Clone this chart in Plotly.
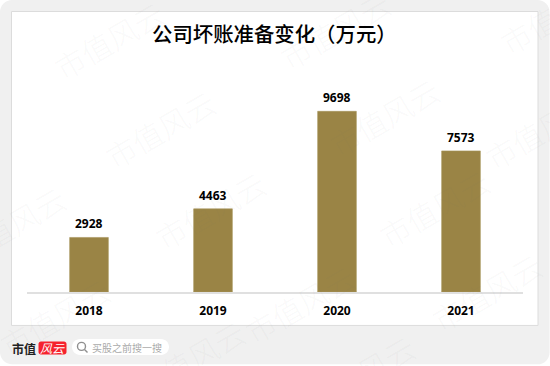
import plotly.graph_objects as go

years = ["2018", "2019", "2020", "2021"]
values = [2928, 4463, 9698, 7573]
title_text = "公司坏账准备变化（万元）"
watermark_text = "市值风云"
watermark_centers = [(109, 40), (160, 129), (335, 30), (384, 117), (555, 15), (434, 208),
                     (487, 293), (210, 210), (10, 225), (55, 318), (300, 305), (190, 360), (540, 130), (360, 375)]

W, H = 550, 366
PLOT_L, PLOT_W, PLOT_BOTTOM, PLOT_H = 27, 496, 292.5, 281.5


def px(x):
    return (x - PLOT_L) / PLOT_W


def py(y):
    return (PLOT_BOTTOM - y) / PLOT_H


def rounded(x0, y0, x1, y1, r):
    k = 0.45 * r
    pts = [
        ("M", (x0 + r, y0)), ("L", (x1 - r, y0)),
        ("C", (x1 - k, y0), (x1, y0 + k), (x1, y0 + r)), ("L", (x1, y1 - r)),
        ("C", (x1, y1 - k), (x1 - k, y1), (x1 - r, y1)), ("L", (x0 + r, y1)),
        ("C", (x0 + k, y1), (x0, y1 - k), (x0, y1 - r)), ("L", (x0, y0 + r)),
        ("C", (x0, y0 + k), (x0 + k, y0), (x0 + r, y0)),
    ]
    out = []
    for p in pts:
        out.append(p[0] + " " + " ".join(f"{px(a):.5f},{py(b):.5f}" for a, b in p[1:]))
    return " ".join(out) + " Z"


fig = go.Figure(go.Bar(x=years, y=values, width=0.312, cliponaxis=False,
                       marker=dict(color="#9a8445", line=dict(color="#a6935a", width=0.6))))

shapes = [
    dict(type="path", xref="paper", yref="paper", path=rounded(0, 0, 549.5, 365, 12), layer="below",
         line=dict(width=0), fillcolor="#f0f0f0"),
    dict(type="rect", xref="paper", yref="paper", x0=px(11.5), x1=px(538), y0=py(326), y1=py(11.5), layer="below",
         line=dict(width=1, color="#dcdcdc"), fillcolor="#ffffff"),
    dict(type="path", xref="paper", yref="paper", path=rounded(38.5, 342, 66.5, 355, 2.5), layer="below",
         line=dict(width=0), fillcolor="#f5222d"),
    dict(type="path", xref="paper", yref="paper", path=rounded(72, 339.5, 169, 355.5, 8), layer="below",
         line=dict(width=0), fillcolor="#ffffff"),
    dict(type="circle", xref="paper", yref="paper", x0=px(77.5), x1=px(85.5), y0=py(351), y1=py(343), layer="above",
         line=dict(width=1.4, color="#8f8f8f"), fillcolor="rgba(0,0,0,0)"),
    dict(type="line", xref="paper", yref="paper", x0=px(84.5), x1=px(87.5), y0=py(350), y1=py(353), layer="above",
         line=dict(width=1.4, color="#8f8f8f")),
]

anns = []
for cx, cy in watermark_centers:
    anns.append(dict(xref="paper", yref="paper", x=px(cx), y=py(cy), text=watermark_text, showarrow=False,
                     xanchor="center", yanchor="middle", textangle=-30,
                     font=dict(family="Noto Sans CJK SC", size=30, color="rgba(110,110,110,0.05)", weight=300)))
for i, value in enumerate(values):
    anns.append(dict(x=i, y=value, xref="x", yref="y", text=str(value), showarrow=False, xanchor="center",
                     yanchor="middle", yshift=13.5,
                     font=dict(family="Noto Sans", size=12, color="#000000", weight=700)))
anns += [
    dict(xref="paper", yref="paper", x=px(274), y=py(33.5), text=title_text, showarrow=False,
         xanchor="center", yanchor="middle",
         font=dict(family="Noto Sans CJK SC", size=20.4, color="#000000", weight=500)),
    dict(xref="paper", yref="paper", x=px(23.5), y=py(349.5), text="市值", showarrow=False,
         xanchor="center", yanchor="middle",
         font=dict(family="Noto Sans CJK SC", size=12, color="#222222", weight=700)),
    dict(xref="paper", yref="paper", x=px(52.5), y=py(348.5), text="<i>风云</i>", showarrow=False,
         xanchor="center", yanchor="middle",
         font=dict(family="Noto Sans CJK SC", size=12, color="#ffffff")),
    dict(xref="paper", yref="paper", x=px(126.5), y=py(348), text="买股之前搜一搜", showarrow=False,
         xanchor="center", yanchor="middle",
         font=dict(family="Noto Sans CJK SC", size=10, color="#aaaaaa")),
]

fig.update_layout(
    width=W, height=H, autosize=False, margin=dict(l=PLOT_L, r=W - PLOT_L - PLOT_W, t=PLOT_BOTTOM - PLOT_H, b=H - PLOT_BOTTOM),
    paper_bgcolor="#ffffff", plot_bgcolor="rgba(0,0,0,0)", showlegend=False,
    shapes=shapes, annotations=anns,
    xaxis=dict(type="category", range=[-0.5, 3.5], showgrid=False, ticks="", showline=True, linecolor="#e0e0e0", linewidth=1.5,
               tickfont=dict(family="Noto Sans", size=12, color="#000000", weight=700), ticklabelstandoff=7),
    yaxis=dict(range=[0, 15083], visible=False, showgrid=False, zeroline=False),
)
fig.write_html("out.html", config=dict(displayModeBar=False),
               post_script="document.body.style.margin='0';document.body.style.overflow='hidden';")
